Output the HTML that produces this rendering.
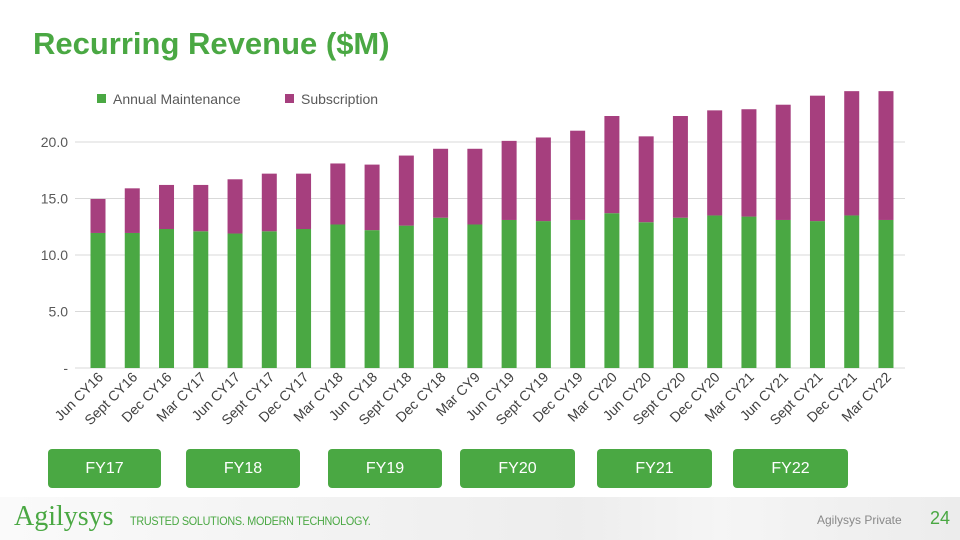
<!DOCTYPE html>
<html><head><meta charset="utf-8"><style>
body{margin:0;width:960px;height:540px;overflow:hidden;background:#fff;font-family:"Liberation Sans",sans-serif;position:relative}
.title{position:absolute;left:33px;top:26px;font-size:31px;font-weight:bold;color:#4aa843}
.fy{position:absolute;top:449px;height:39px;background:#4aa843;border-radius:4px;color:#fff;font-size:16px;line-height:39px;text-align:center}
.footer{position:absolute;left:0;top:497px;width:960px;height:43px;background:linear-gradient(90deg,#fafafa,#ededed 60%,#f5f5f5 75%,#ececec)}
</style></head><body>
<div class="title">Recurring Revenue ($M)</div>
<svg id="chart" width="960" height="450" style="position:absolute;left:0;top:0"></svg>
<div class="fy" style="left:48px;width:113px">FY17</div>
<div class="fy" style="left:186px;width:114px">FY18</div>
<div class="fy" style="left:328px;width:114px">FY19</div>
<div class="fy" style="left:460px;width:115px">FY20</div>
<div class="fy" style="left:597px;width:115px">FY21</div>
<div class="fy" style="left:733px;width:115px">FY22</div>
<div class="footer">
<span style="position:absolute;left:14px;top:4px;font-family:'Liberation Serif',serif;font-size:28px;color:#4aa843">Agilysys</span>
<span style="position:absolute;left:130px;top:17px;font-size:12px;color:#4aa843;letter-spacing:-0.3px;transform:scaleX(0.9);transform-origin:left">TRUSTED SOLUTIONS. MODERN TECHNOLOGY.</span>
<span style="position:absolute;left:817px;top:16px;font-size:12px;color:#888">Agilysys Private</span>
<span style="position:absolute;left:930px;top:11px;font-size:18px;color:#4aa843">24</span>
</div>
<script>
const categories=["Jun CY16","Sept CY16","Dec CY16","Mar CY17","Jun CY17","Sept CY17","Dec CY17","Mar CY18","Jun CY18","Sept CY18","Dec CY18","Mar CY9","Jun CY19","Sept CY19","Dec CY19","Mar CY20","Jun CY20","Sept CY20","Dec CY20","Mar CY21","Jun CY21","Sept CY21","Dec CY21","Mar CY22"];
const maintenance=[11.95,11.95,12.3,12.1,11.9,12.1,12.3,12.7,12.2,12.6,13.3,12.7,13.1,13.0,13.1,13.7,12.9,13.3,13.5,13.4,13.1,13.0,13.5,13.1];
const total=[14.96,15.9,16.2,16.2,16.7,17.2,17.2,18.1,18.0,18.8,19.4,19.4,20.1,20.4,21.0,22.3,20.5,22.3,22.8,22.9,23.3,24.1,24.5,24.5];
const subscription=total.map((t,i)=>+(t-maintenance[i]).toFixed(2));
const yTicks=[0,5,10,15,20];
const yTickLabels=["-","5.0","10.0","15.0","20.0"];
const NS="http://www.w3.org/2000/svg";
const svg=document.getElementById('chart');
const y0=368,ppu=11.3,x0=98,step=34.26,bw=15;
const y=v=>y0-v*ppu, x=i=>x0+i*step;
function mk(t,a){const e=document.createElementNS(NS,t);for(const k in a)e.setAttribute(k,a[k]);svg.appendChild(e);return e;}
yTicks.forEach((t,i)=>{
 const l=mk('line',{x1:75,x2:905,y1:y(t),y2:y(t),stroke:'#d9d9d9','stroke-width':1});
 
 
 const tx=mk('text',{x:68,y:y(t)+5,'text-anchor':'end','font-size':14,fill:'#595959','font-family':'Liberation Sans'});
 tx.textContent=yTickLabels[i];
 
 
});
categories.forEach((c,i)=>{
 const r1=mk('rect',{x:x(i)-bw/2,y:y(maintenance[i]),width:bw,height:maintenance[i]*ppu,fill:'#4aa843'});
 
 
 const r2=mk('rect',{x:x(i)-bw/2,y:y(maintenance[i]+subscription[i]),width:bw,height:subscription[i]*ppu,fill:'#a63f7e'});
 
 
 const tx=mk('text',{x:x(i)+6,y:378,'text-anchor':'end','font-size':14,fill:'#404040','font-family':'Liberation Sans',transform:`rotate(-45 ${x(i)+6} 378)`});
 tx.textContent=c;
 
 
});
[[97,'#4aa843','Annual Maintenance'],[285,'#a63f7e','Subscription']].forEach(([lx,col,lab])=>{
 const r=mk('rect',{x:lx,y:94,width:9,height:9,fill:col});
 
 
 const t=mk('text',{x:lx+16,y:104,'font-size':14,fill:'#595959','font-family':'Liberation Sans'});
 t.textContent=lab;
 
 
});
</script>
</body></html>
